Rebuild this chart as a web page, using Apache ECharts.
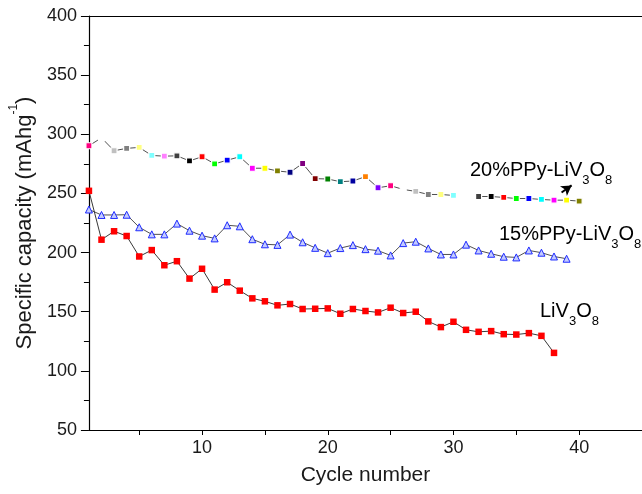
<!DOCTYPE html>
<html>
<head>
<meta charset="utf-8">
<script src="https://cdn.jsdelivr.net/npm/echarts@6/dist/echarts.min.js"></script>
<style>
html, body { margin: 0; padding: 0; background: #fff; }
#chart { width: 642px; height: 494px; }
</style>
</head>
<body>
<div id="chart"></div>
<script>
// cycle numbers
var cycles20 = [1, 2, 3, 4, 5, 6, 7, 8, 9, 10, 11, 12, 13, 14, 15, 16, 17, 18, 19, 20,
    21, 22, 23, 24, 25, 26, 27, 28, 29, 30, 31, 32, 33, 34, 35, 36, 37, 38, 39, 40]
var cycles15 = [1, 2, 3, 4, 5, 6, 7, 8, 9, 10, 11, 12, 13, 14, 15, 16, 17, 18, 19, 20,
    21, 22, 23, 24, 25, 26, 27, 28, 29, 30, 31, 32, 33, 34, 35, 36, 37, 38, 39]
var cyclesBare = [1, 2, 3, 4, 5, 6, 7, 8, 9, 10, 11, 12, 13, 14, 15, 16, 17, 18, 19, 20,
    21, 22, 23, 24, 25, 26, 27, 28, 29, 30, 31, 32, 33, 34, 35, 36, 37, 38]

// specific capacity (mAh/g), '-' = no point
var capacity20 = [290.3, 297, 286.1, 288.1, 288.9, 282.1, 281.5, 281.8, 277.5, 281,
    275, 278.1, 281, 271.3, 271.3, 269, 267.9, 275.3, 262.5, 262.2,
    259.9, 260.5, 264.2, 254.8, 256.5, 253.4, 251.7, 249.1, 249.1, 248.3,
    '-', 247.4, 247.4, 246.6, 245.7, 245.7, 244.9, 244.3, 244.3, 243.5]
var capacity15 = [236.4, 231.8, 231.8, 232, 221.4, 215.4, 215.4, 224.5, 218.5, 214.3,
    212, 223.1, 222.2, 211.3, 207, 206.5, 215.2, 208.7, 204, 199.5,
    203.8, 206.3, 202.9, 201.6, 197.6, 208, 209.2, 203.5, 198.4, 198.4,
    206.7, 201.8, 199, 196.5, 195.9, 201.8, 199.9, 196.7, 194.8]
var capacityBare = [252.2, 210.9, 218, 214, 196.7, 202.1, 189.3, 192.7, 178, 186.3,
    168.7, 174.9, 167.8, 161.3, 158.8, 155.4, 156.5, 152.3, 152.5, 152.8,
    148.3, 152.3, 150.6, 149.4, 153.4, 148.9, 150, 141.8, 137, 141.5,
    134.7, 133, 133.6, 131, 130.7, 131.9, 129.6, 115.2]

var xTicks = [5, 10, 15, 20, 25, 30, 35, 40, 45]
var xLabels = [10, 20, 30, 40]

// Origin style colour increment for the 20% symbols
var palette = ['#000000', '#FF0000', '#00FF00', '#0000FF', '#00FFFF', '#FF00FF', '#FFFF00', '#808000',
    '#000080', '#800080', '#800000', '#008000', '#008080', '#0000A0', '#FF8000', '#8000FF',
    '#FF0080', '#FFFFFF', '#C0C0C0', '#808080', '#FFFF80', '#80FFFF', '#FF80FF', '#404040']

var font = 'Liberation Sans, Arial, Helvetica, sans-serif'
var ink = '#1a1a1a'

function pairs (xs, ys) {
    return xs.map(function (x, i) { return [x, ys[i]] })
}

var data20 = cycles20.map(function (x, i) {
    return {
        value: [x, capacity20[i]],
        itemStyle: { color: palette[(i + 16) % 24] }
    }
})

// label with subscripts
var subRich = {
    m: { fontFamily: font, fontSize: 20, color: ink, padding: [0, 0, 7, 0], verticalAlign: 'bottom' },
    s: { fontFamily: font, fontSize: 13, color: ink, verticalAlign: 'bottom' }
}

var chart = echarts.init(document.getElementById('chart'))

var option = {
    animation: false,
    backgroundColor: '#fff',
    grid: { left: 87, right: 0, top: 16, bottom: 64 },
    xAxis: [{
        type: 'value',
        min: 1,
        max: 45,
        name: 'Cycle number',
        nameLocation: 'middle',
        nameGap: 35,
        nameTextStyle: { fontFamily: font, fontSize: 21, color: ink },
        axisLine: { lineStyle: { color: '#000', width: 1.2 } },
        axisTick: { show: true, length: 5, customValues: xTicks, lineStyle: { color: '#000' } },
        axisLabel: { customValues: xLabels, margin: 9, fontFamily: font, fontSize: 18, color: ink },
        splitLine: { show: false }
    }, {
        // top frame line
        type: 'value',
        position: 'top',
        min: 1,
        max: 45,
        axisLine: { show: true, lineStyle: { color: '#000', width: 1.2 } },
        axisTick: { show: false },
        axisLabel: { show: false },
        splitLine: { show: false }
    }],
    yAxis: {
        type: 'value',
        min: 50,
        max: 400,
        interval: 50,
        name: '{a|Specific capacity (mAhg}{s|-1}{a|)}',
        nameLocation: 'middle',
        nameGap: 50,
        nameTextStyle: {
            fontFamily: font,
            color: ink,
            rich: {
                a: { fontFamily: font, fontSize: 22, color: ink, padding: [6, 0, 0, 0], verticalAlign: 'bottom' },
                s: { fontFamily: font, fontSize: 12, color: ink, verticalAlign: 'top' }
            }
        },
        axisLine: { show: true, lineStyle: { color: '#000', width: 1.2 } },
        axisTick: { show: true, length: 8, lineStyle: { color: '#000' } },
        minorTick: { show: true, splitNumber: 2, length: 5, lineStyle: { color: '#000' } },
        axisLabel: { margin: 12, fontFamily: font, fontSize: 18, color: ink },
        splitLine: { show: false }
    },
    series: [{
        name: '20%PPy-LiV3O8',
        type: 'line',
        data: data20,
        symbol: 'rect',
        symbolSize: 6,
        connectNulls: false,
        lineStyle: { color: '#505050', width: 1 },
        itemStyle: { borderColor: '#fff', borderWidth: 1.2 },
        markLine: {
            silent: true,
            symbol: ['none', 'arrow'],
            symbolSize: [9, 10],
            label: { show: false },
            lineStyle: { color: '#000', width: 2, type: 'solid' },
            data: [[{ coord: [38.6, 250.8] }, { coord: [39.4, 256.8] }]]
        },
        z: 3
    }, {
        name: '15%PPy-LiV3O8',
        type: 'line',
        data: pairs(cycles15, capacity15),
        symbol: 'triangle',
        symbolSize: 7,
        lineStyle: { color: '#505050', width: 1 },
        itemStyle: { color: '#c4cbff', borderColor: '#1f2cff', borderWidth: 1 }
    }, {
        name: 'LiV3O8',
        type: 'line',
        data: pairs(cyclesBare, capacityBare),
        symbol: 'rect',
        symbolSize: 6.5,
        lineStyle: { color: '#383838', width: 1 },
        itemStyle: { color: '#ff0000' }
    }],
    graphic: [{
        type: 'text',
        left: 470,
        top: 160,
        style: { text: '{m|20%PPy-LiV}{s|3}{m|O}{s|8}', rich: subRich }
    }, {
        type: 'text',
        left: 499,
        top: 224,
        style: { text: '{m|15%PPy-LiV}{s|3}{m|O}{s|8}', rich: subRich }
    }, {
        type: 'text',
        left: 540,
        top: 301,
        style: { text: '{m|LiV}{s|3}{m|O}{s|8}', rich: subRich }
    }]
}

chart.setOption(option)
</script>
</body>
</html>
